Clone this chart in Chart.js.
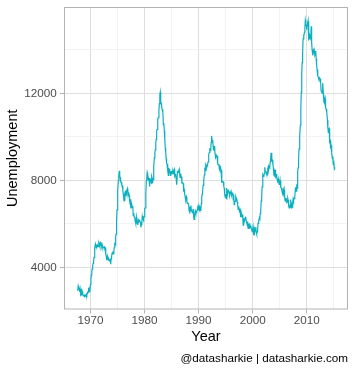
<!DOCTYPE html>
<html>
<head>
<meta charset="utf-8">
<script src="https://cdn.jsdelivr.net/npm/chart.js@4/dist/chart.umd.min.js"></script>
<style>
html,body{margin:0;padding:0;background:#fff;}
#wrap{width:356px;height:372px;position:relative;}
</style>
</head>
<body>
<div id="wrap"><canvas id="c" width="356" height="372"></canvas></div>
<script>
// Monthly US unemployment (thousands), starting July 1967
const startYear = 1967;
const startMonth = 7;
const unemploy = [
2944,2945,2958,3143,3066,3018,
2878,3001,2877,2709,2740,2938,2883,2768,2686,2689,2715,2685,
2718,2692,2712,2758,2713,2816,2868,2856,3040,3049,2856,2884,
3201,3453,3635,3797,3919,4071,4175,4256,4456,4591,4898,5076,
4986,4903,4987,4959,4996,4949,5035,5134,5042,4954,5161,5154,
5019,4928,5038,4959,4922,4923,4913,4939,4849,4875,4602,4543,
4326,4452,4394,4459,4329,4363,4305,4305,4350,4144,4396,4489,
4644,4731,4634,4618,4705,4927,5063,5022,5437,5523,6140,6636,
7501,7520,7978,8210,8433,8220,8127,7928,7923,7897,7794,7744,
7534,7326,7230,7330,7053,7322,7490,7518,7380,7430,7620,7545,
7280,7443,7307,7059,6911,7134,6829,6925,6751,6763,6815,6386,
6489,6318,6337,6180,6127,6028,6309,6080,6125,5947,6077,6228,
6109,6173,6109,6069,5840,5959,5996,6320,6190,6296,6238,6325,
6683,6702,6729,7358,7984,8098,8363,8281,8021,8088,8023,7718,
8071,8051,7982,7869,8174,8098,7863,8036,8230,8646,9029,9267,
9397,9705,9895,10244,10335,10538,10849,10881,11217,11529,11938,12051,
11534,11545,11408,11268,11154,11246,10548,10623,10282,9887,9499,9331,
9008,8791,8746,8762,8456,8226,8537,8519,8367,8381,8198,8358,
8423,8321,8339,8395,8302,8460,8513,8196,8248,8298,8128,8138,
7795,8402,8383,8364,8439,8508,8319,8135,8310,8243,8159,7883,
7892,7865,7862,7542,7574,7398,7268,7261,7102,7227,7035,6936,
6953,6929,6876,6601,6779,6546,6605,6843,6604,6568,6537,6518,
6682,6359,6205,6468,6375,6577,6495,6511,6590,6630,6725,6667,
6752,6651,6598,6797,6742,6590,6922,7188,7368,7459,7764,7901,
8015,8265,8586,8439,8736,8692,8586,8666,8722,8842,8931,9198,
9283,9454,9460,9415,9744,10040,9850,9787,9781,9398,9565,9557,
9325,9183,9056,9110,9149,9121,8930,8763,8714,8750,8542,8477,
8630,8583,8470,8331,7915,7927,7946,7933,7734,7632,7375,7230,
7375,7187,7153,7645,7430,7427,7527,7484,7478,7328,7426,7423,
7491,7313,7318,7415,7423,7095,7337,6882,6979,7031,7236,7253,
7158,7102,7000,6873,6655,6799,6655,6608,6656,6454,6308,6476,
6368,6306,6422,5941,6047,6212,6259,6179,6300,6280,6100,6032,
5976,6111,5783,6004,5796,5951,6025,5838,5915,5778,5716,5653,
5708,5858,5733,5481,5758,5651,5747,5853,5625,5534,5639,5634,
6023,6089,6141,6271,6226,6484,6583,7042,7142,7694,8003,8258,
8182,8215,8304,8599,8399,8393,8390,8304,8251,8307,8520,8640,
8520,8618,8588,8842,8957,9266,9011,8896,8921,8732,8576,8317,
8370,8167,8491,8170,8212,8286,8136,7990,7927,8061,7932,7934,
7784,7980,7737,7672,7651,7524,7406,7345,7553,7453,7566,7279,
7064,7184,7072,7120,6980,7001,7175,7091,6847,6727,6872,6762,
7116,6927,6731,6850,6766,6979,7149,7067,7170,7237,7240,7645,
7685,7497,7822,7637,8395,8575,8937,9438,9494,10074,10538,11286,
12058,12898,13426,13853,14499,14707,14601,14814,15009,15352,15219,15098,
15046,15113,15202,15325,14849,14474,14512,14648,14579,14516,15081,14348,
14013,13820,13737,13957,13855,13962,13763,13818,13948,13594,13302,13093,
12797,12813,12713,12646,12660,12692,12656,12471,12115,12124,12005,12298,
12471,11950,11689,11760,11654,11751,11335,11279,11270,11136,10787,10404,
10202,10349,10380,9702,9859,9460,9608,9599,9262,8990,9090,8717,
8903,8610,8504,8526
];
const xMajorTicks = [1970, 1980, 1990, 2000, 2010];
const xMinorTicks = [1975, 1985, 1995, 2005, 2015];
const yMajorTicks = [4000, 8000, 12000];
const yMinorTicks = [6000, 10000, 14000];
const xTitle = 'Year';
const yTitle = 'Unemployment';
const caption = '@datasharkie | datasharkie.com';

const points = unemploy.map((v, i) => {
  const m = startMonth - 1 + i;
  const yr = startYear + Math.floor(m / 12);
  const mo = m % 12;
  const d = new Date(Date.UTC(yr, mo, 1));
  const y0 = Date.UTC(yr, 0, 1), y1 = Date.UTC(yr + 1, 0, 1);
  return { x: yr + (d - y0) / (y1 - y0), y: v };
});

const FONT = '"Liberation Sans", Arial, sans-serif';
const MAJOR = '#DEDEDE', MINOR = '#EEEEEE';

const borderPlugin = {
  id: 'panelBorder',
  afterDatasetsDraw(chart) {
    const a = chart.chartArea, ctx = chart.ctx;
    ctx.save();
    ctx.strokeStyle = '#B3B3B3';
    ctx.lineWidth = 1;
    ctx.strokeRect(a.left + 0.5, a.top + 0.5, a.right - a.left - 1, a.bottom - a.top - 1);
    ctx.restore();
  },
  afterDraw(chart) {
    const ctx = chart.ctx;
    ctx.save();
    ctx.font = '11.7px ' + FONT;
    ctx.fillStyle = '#000';
    ctx.textAlign = 'right';
    ctx.textBaseline = 'alphabetic';
    ctx.fillText(caption, 348, 361.5);
    ctx.restore();
  }
};

function noPad(s) {
  s.paddingTop = 0; s.paddingBottom = 0; s.paddingLeft = 0; s.paddingRight = 0;
}

new Chart(document.getElementById('c'), {
  type: 'line',
  data: {
    datasets: [{
      data: points,
      borderColor: '#0BB0BF',
      borderWidth: 1.2,
      pointRadius: 0,
      fill: false,
      tension: 0
    }]
  },
  options: {
    responsive: false,
    animation: false,
    events: [],
    layout: { padding: { left: 0, right: 8, top: 7, bottom: 0 } },
    plugins: { legend: { display: false }, tooltip: { enabled: false } },
    scales: {
      x: {
        type: 'linear',
        min: 1965.11,
        max: 2017.64,
        afterBuildTicks(s) {
          s.ticks = xMajorTicks.concat(xMinorTicks).sort((a, b) => a - b).map(v => ({ value: v }));
        },
        afterFit(s) { s.height = 62.5; noPad(s); },
        border: { display: false },
        grid: {
          color: c => xMajorTicks.includes(c.tick.value) ? MAJOR : MINOR,
          lineWidth: c => xMajorTicks.includes(c.tick.value) ? 1 : 0.7,
          tickColor: c => xMajorTicks.includes(c.tick.value) ? '#B3B3B3' : 'rgba(0,0,0,0)',
          tickLength: 4,
          drawTicks: true
        },
        ticks: {
          autoSkip: false,
          maxRotation: 0,
          padding: 0,
          color: '#4D4D4D',
          font: { family: FONT, size: 11.7 },
          callback: v => xMajorTicks.includes(v) ? String(v) : ''
        },
        title: {
          display: true,
          text: xTitle,
          color: '#000',
          font: { family: FONT, size: 14.5 },
          padding: { top: 0, bottom: 26.3 }
        }
      },
      y: {
        type: 'linear',
        min: 2060,
        max: 15968,
        afterBuildTicks(s) {
          s.ticks = yMajorTicks.concat(yMinorTicks).sort((a, b) => a - b).map(v => ({ value: v }));
        },
        afterFit(s) { s.width = 64; noPad(s); },
        border: { display: false },
        grid: {
          color: c => yMajorTicks.includes(c.tick.value) ? MAJOR : MINOR,
          lineWidth: c => yMajorTicks.includes(c.tick.value) ? 1 : 0.7,
          tickColor: c => yMajorTicks.includes(c.tick.value) ? '#B3B3B3' : 'rgba(0,0,0,0)',
          tickLength: 4,
          drawTicks: true
        },
        ticks: {
          autoSkip: false,
          padding: 3.3,
          color: '#4D4D4D',
          font: { family: FONT, size: 11.7 },
          callback: v => yMajorTicks.includes(v) ? String(v) : ''
        },
        title: {
          display: true,
          text: yTitle,
          color: '#000',
          font: { family: FONT, size: 14.5 },
          padding: { top: 4, bottom: 0 }
        }
      }
    }
  },
  plugins: [borderPlugin]
});
</script>
</body>
</html>
